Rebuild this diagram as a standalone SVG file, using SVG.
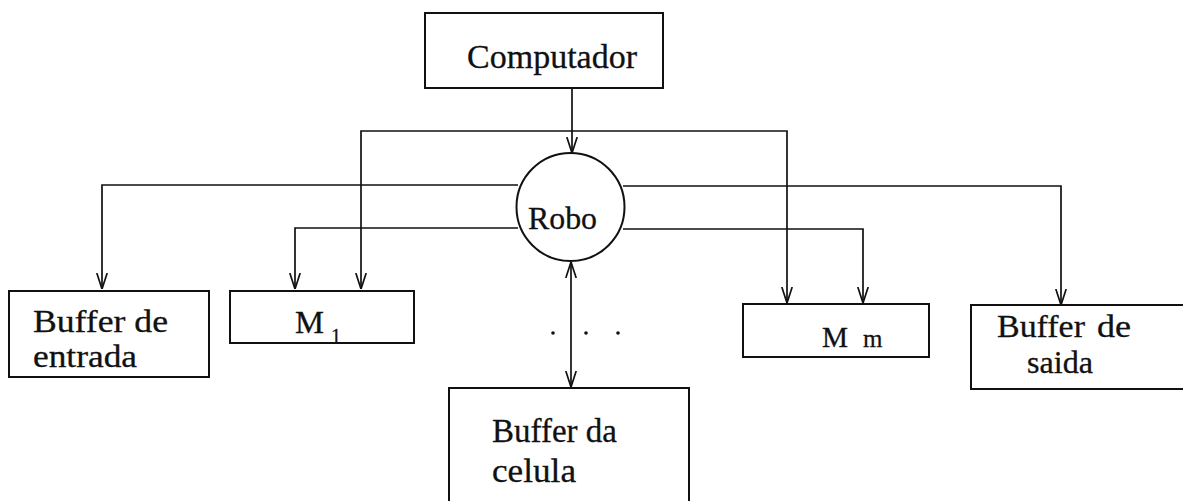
<svg xmlns="http://www.w3.org/2000/svg" width="1183" height="501" viewBox="0 0 1183 501">
<style>
.box{fill:none;stroke:#111;stroke-width:2}
.ln{fill:none;stroke:#111;stroke-width:1.7}
.t{font-family:'Liberation Serif','DejaVu Serif','Times New Roman',serif;fill:#111;stroke:#111;stroke-width:0.3}
</style>
<defs>
<marker id="arr" viewBox="0 0 16 12" refX="16" refY="6" markerWidth="16" markerHeight="12" markerUnits="userSpaceOnUse" orient="auto-start-reverse">
<path d="M0,0.8 L16,6 L0,11.2" fill="none" stroke="#111" stroke-width="1.7"/>
</marker>
</defs>
<rect width="1183" height="501" fill="#fff"/>
<g id="connectors">
<path class="ln" d="M572,88 V153" marker-end="url(#arr)"/>
<path class="ln" d="M361,289 V131 H787 V303" marker-start="url(#arr)" marker-end="url(#arr)"/>
<path class="ln" d="M518,185 H102 V289" marker-end="url(#arr)"/>
<path class="ln" d="M623,186 H1061 V305" marker-end="url(#arr)"/>
<path class="ln" d="M518,228 H295 V289" marker-end="url(#arr)"/>
<path class="ln" d="M623,229 H863 V303" marker-end="url(#arr)"/>
<path class="ln" d="M571,262 V387" marker-start="url(#arr)" marker-end="url(#arr)"/>
</g>
<g id="computador">
<rect class="box" x="425" y="13" width="238" height="75"/>
<text class="t" x="467" y="68" font-size="34" textLength="170" lengthAdjust="spacingAndGlyphs">Computador</text>
</g>
<g id="robo">
<circle class="box" cx="570.5" cy="207" r="54"/>
<text class="t" x="528" y="229" font-size="32" textLength="69" lengthAdjust="spacingAndGlyphs">Robo</text>
</g>
<g id="buffer-entrada">
<rect class="box" x="9" y="291" width="200" height="86"/>
<text class="t" x="33" y="332" font-size="31" textLength="135" lengthAdjust="spacingAndGlyphs">Buffer de</text>
<text class="t" x="33" y="367" font-size="31" textLength="104" lengthAdjust="spacingAndGlyphs">entrada</text>
</g>
<g id="m1">
<rect class="box" x="230" y="291" width="184" height="52"/>
<text class="t" x="295" y="333" font-size="31" textLength="29" lengthAdjust="spacingAndGlyphs">M</text>
<text class="t" x="331" y="343" font-size="20">1</text>
</g>
<g id="dots">
<circle cx="553" cy="333" r="1.8" fill="#111"/>
<circle cx="586" cy="333" r="1.8" fill="#111"/>
<circle cx="618" cy="333" r="1.8" fill="#111"/>
</g>
<g id="buffer-celula">
<rect class="box" x="449" y="388" width="240" height="130"/>
<text class="t" x="492" y="442" font-size="34" textLength="125" lengthAdjust="spacingAndGlyphs">Buffer da</text>
<text class="t" x="492" y="482" font-size="34" textLength="84" lengthAdjust="spacingAndGlyphs">celula</text>
</g>
<g id="mm">
<rect class="box" x="743" y="304" width="186" height="53"/>
<text class="t" x="822" y="347" font-size="29" textLength="26" lengthAdjust="spacingAndGlyphs">M</text>
<text class="t" x="863" y="347" font-size="25">m</text>
</g>
<g id="buffer-saida">
<rect class="box" x="971" y="305" width="230" height="84"/>
<text class="t" x="997" y="337" font-size="31" textLength="88" lengthAdjust="spacingAndGlyphs">Buffer</text>
<text class="t" x="1097" y="337" font-size="31" textLength="34" lengthAdjust="spacingAndGlyphs">de</text>
<text class="t" x="1027" y="373" font-size="31" textLength="66" lengthAdjust="spacingAndGlyphs">saida</text>
</g>
</svg>
